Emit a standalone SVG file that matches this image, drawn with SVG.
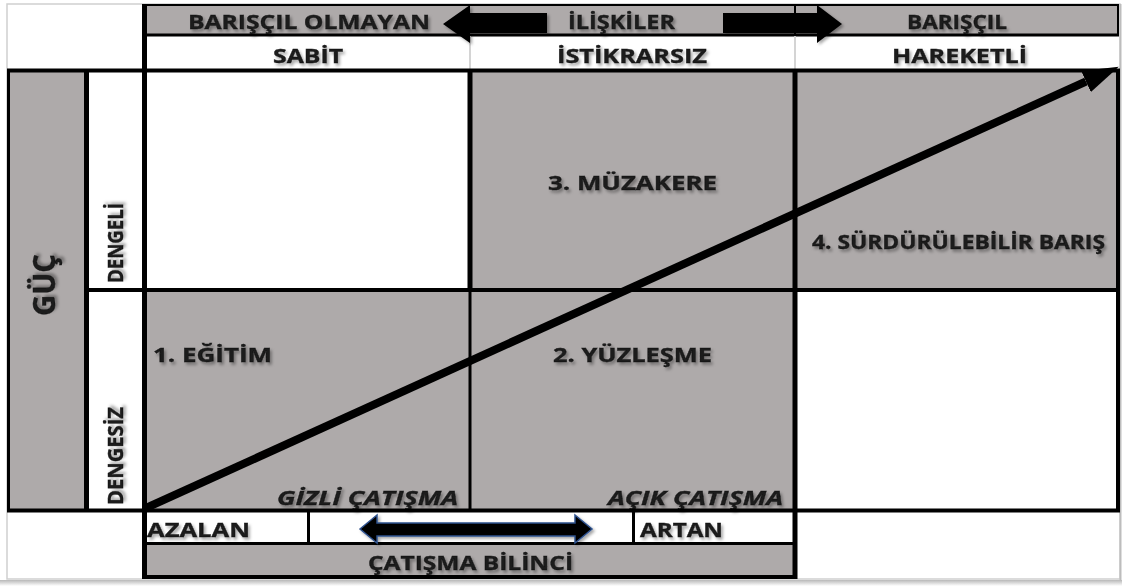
<svg xmlns="http://www.w3.org/2000/svg" width="1122" height="586" viewBox="0 0 1122 586">
<defs>
<filter id="ts" x="-10%" y="-40%" width="125%" height="190%">
<feDropShadow dx="2" dy="2.5" stdDeviation="1.8" flood-color="#000" flood-opacity="0.35"/>
</filter>
<filter id="as" x="-10%" y="-40%" width="125%" height="190%">
<feDropShadow dx="2" dy="2" stdDeviation="1.5" flood-color="#000" flood-opacity="0.35"/>
</filter>
<marker id="head" markerUnits="userSpaceOnUse" markerWidth="36" markerHeight="24" viewBox="0 0 34 22" refX="0" refY="11" orient="auto">
<path d="M0,0 L34,11 L0,22 z" fill="#000"/>
</marker>
<linearGradient id="pg" x1="0" y1="0" x2="0" y2="1">
<stop offset="0" stop-color="#b8b8b8"/>
<stop offset="1" stop-color="#ffffff"/>
</linearGradient>
</defs>
<style>
.g{fill:#AEAAAA}
.w{fill:#ffffff}
.ln{stroke:#000;fill:none}
.t{font-family:"Open Sans","Liberation Sans",sans-serif;font-weight:700;font-size:20px;fill:#1a1a1a;stroke:#1a1a1a;stroke-width:0.35px;filter:url(#ts)}
.i{font-style:italic}
.v{font-size:21px}
</style>
<rect x="0" y="0" width="1122" height="586" fill="#fff"/>
<rect x="7" y="4" width="1113" height="575" fill="#fff" stroke="#cfcfcf" stroke-width="1.5"/>
<rect x="0" y="580" width="1122" height="6" fill="url(#pg)"/>
<line x1="1120.5" y1="4" x2="1120.5" y2="580" stroke="#bdbdbd" stroke-width="2"/>

<g id="header-relations">
<rect class="g" x="145" y="5" width="973" height="30"/>
<line class="ln" x1="143" y1="5" x2="1119" y2="5" stroke-width="2"/>
<line class="ln" x1="143" y1="35" x2="1119" y2="35" stroke-width="3"/>
<line class="ln" x1="795" y1="5" x2="795" y2="35" stroke-width="2"/>
<line class="ln" x1="1118" y1="5" x2="1118" y2="36" stroke-width="2"/>
<text class="t" x="188" y="29" textLength="242" lengthAdjust="spacingAndGlyphs">BARIŞÇIL OLMAYAN</text>
<text class="t" x="568" y="29" textLength="107" lengthAdjust="spacingAndGlyphs">İLİŞKİLER</text>
<text class="t" x="907" y="29" textLength="100" lengthAdjust="spacingAndGlyphs">BARIŞÇIL</text>
</g>

<g id="header-states">
<line x1="470" y1="36" x2="470" y2="69" stroke="#d4d4d4" stroke-width="2"/>
<line x1="795" y1="36" x2="795" y2="69" stroke="#d4d4d4" stroke-width="2"/>
<text class="t" x="273" y="63" textLength="70" lengthAdjust="spacingAndGlyphs">SABİT</text>
<text class="t" x="557" y="63" textLength="150" lengthAdjust="spacingAndGlyphs">İSTİKRARSIZ</text>
<text class="t" x="892" y="63" textLength="135" lengthAdjust="spacingAndGlyphs">HAREKETLİ</text>
</g>

<g id="guc">
<rect class="g" x="8" y="70" width="78" height="440"/>
<text class="t" style="font-size:30px" transform="translate(55,285) rotate(-90)" text-anchor="middle" textLength="62" lengthAdjust="spacingAndGlyphs">GÜÇ</text>
</g>

<g id="dengeli">
<text class="t v" transform="translate(123,283) rotate(-90)" textLength="80" lengthAdjust="spacingAndGlyphs">DENGELİ</text>
</g>
<g id="dengesiz">
<text class="t v" transform="translate(123,505) rotate(-90)" textLength="98" lengthAdjust="spacingAndGlyphs">DENGESİZ</text>
</g>

<g id="cell-sabit-dengeli">
<rect class="w" x="145" y="70" width="325" height="220"/>
</g>
<g id="cell-muzakere">
<rect class="g" x="470" y="70" width="325" height="220"/>
<text class="t" x="548" y="190" textLength="169" lengthAdjust="spacingAndGlyphs">3. MÜZAKERE</text>
</g>
<g id="cell-baris">
<rect class="g" x="795" y="70" width="323" height="220"/>
<text class="t" x="812" y="249" textLength="293" lengthAdjust="spacingAndGlyphs">4. SÜRDÜRÜLEBİLİR BARIŞ</text>
</g>
<g id="cell-egitim">
<rect class="g" x="145" y="290" width="325" height="220"/>
<text class="t" x="153" y="362" textLength="119" lengthAdjust="spacingAndGlyphs">1. EĞİTİM</text>
<text class="t i" x="277" y="505" textLength="181" lengthAdjust="spacingAndGlyphs">GİZLİ ÇATIŞMA</text>
</g>
<g id="cell-yuzlesme">
<rect class="g" x="470" y="290" width="325" height="220"/>
<text class="t" x="553" y="362" textLength="159" lengthAdjust="spacingAndGlyphs">2. YÜZLEŞME</text>
<text class="t i" x="608" y="505" textLength="175" lengthAdjust="spacingAndGlyphs">AÇIK ÇATIŞMA</text>
</g>
<g id="cell-hareketli-dengesiz">
<rect class="w" x="795" y="290" width="323" height="220"/>
</g>

<g id="azalan">
<text class="t" x="147" y="537" textLength="103" lengthAdjust="spacingAndGlyphs">AZALAN</text>
</g>
<g id="artan">
<text class="t" x="640" y="537" textLength="83" lengthAdjust="spacingAndGlyphs">ARTAN</text>
</g>
<g id="catisma-bilinci">
<rect class="g" x="145" y="544" width="650" height="33"/>
<text class="t" x="368" y="570" textLength="205" lengthAdjust="spacingAndGlyphs">ÇATIŞMA BİLİNCİ</text>
</g>

<g id="grid-lines" class="ln">
<line x1="7" y1="70.5" x2="1120" y2="70.5" stroke-width="4"/>
<line x1="144.5" y1="4" x2="144.5" y2="579" stroke-width="5"/>
<line x1="8.5" y1="69" x2="8.5" y2="512" stroke-width="3"/>
<line x1="86.5" y1="69" x2="86.5" y2="512" stroke-width="5"/>
<line x1="84" y1="290" x2="1120" y2="290" stroke-width="4"/>
<line x1="470" y1="69" x2="470" y2="290" stroke-width="5"/>
<line x1="470" y1="290" x2="470" y2="512" stroke-width="3"/>
<line x1="795" y1="69" x2="795" y2="579" stroke-width="5"/>
<line x1="1118" y1="69" x2="1118" y2="512" stroke-width="4"/>
<line x1="7" y1="510.5" x2="1120" y2="510.5" stroke-width="4"/>
<line x1="145" y1="543.5" x2="795" y2="543.5" stroke-width="3"/>
<line x1="142" y1="577" x2="797" y2="577" stroke-width="4"/>
<line x1="308.5" y1="511" x2="308.5" y2="544" stroke-width="3"/>
<line x1="633.5" y1="511" x2="633.5" y2="544" stroke-width="3"/>
</g>

<g id="connectors">
<polygon points="443,24 470,5 470,13 547,13 547,33 470,33 470,43" fill="#000" filter="url(#as)"/>
<polygon points="723,13 817,13 817,5 842,24 817,43 817,33 723,33" fill="#000" filter="url(#as)"/>
<polygon points="360,529 377,515 377,523 575,523 575,515 592,529 575,543 575,536 377,536 377,543" fill="#000" stroke="#2F528F" stroke-width="1.5" stroke-linejoin="miter" filter="url(#as)"/>
<line x1="146" y1="508" x2="1086" y2="81.5" stroke="#000" stroke-width="8" marker-end="url(#head)"/>
</g>
</svg>
